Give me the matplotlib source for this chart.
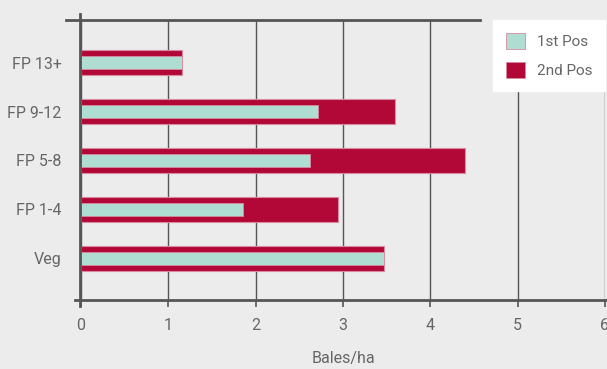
import numpy as np
import matplotlib.pyplot as plt
from matplotlib.patches import Patch

plt.rcParams['font.family'] = ['Roboto', 'DejaVu Sans']

categories = ['Veg', 'FP 1-4', 'FP 5-8', 'FP 9-12', 'FP 13+']
first_pos = [3.47, 1.85, 2.62, 2.71, 1.16]
second_pos = [3.47, 2.94, 4.40, 3.59, 1.16]
xticks = [0, 1, 2, 3, 4, 5, 6]

bg = '#ececec'
mint = '#b0ddd2'
crimson = '#b20838'
edge = '#d98aa0'
grey = '#555555'
txt = '#666666'

fig = plt.figure(figsize=(6.07, 3.69), dpi=100, facecolor=bg)
ax = fig.add_axes([0.1334, 0.187, 0.8633, 0.7588], facecolor=bg)

y = np.arange(len(categories))
ax.barh(y, second_pos, height=0.51, color=crimson, edgecolor=edge, linewidth=0.8, zorder=3)
ax.barh(y, first_pos, height=0.26, color=mint, edgecolor=edge, linewidth=0.6, zorder=4)

ax.set_xlim(0, 6)
ax.set_ylim(-0.85, 4.87)
ax.set_xticks(xticks)
ax.set_yticks(y)
ax.set_yticklabels(categories)
ax.tick_params(axis='y', length=0, pad=14, labelsize=11.5, labelcolor=txt)
ax.tick_params(axis='x', length=5, width=1.2, color=grey, pad=8, labelsize=11.5, labelcolor=txt)
ax.grid(axis='x', color=grey, linewidth=1.0, zorder=1)
for s in ax.spines.values():
    s.set_visible(False)

# custom axis lines, slightly overhanging like the original
ax.plot([-0.012, 1.01], [0, 0], transform=ax.transAxes, color=grey, lw=2, clip_on=False, zorder=5)
ax.plot([-0.029, 0.761], [1, 1], transform=ax.transAxes, color=grey, lw=2, clip_on=False, zorder=5)
ax.plot([-0.002, -0.002], [-0.02, 1.022], transform=ax.transAxes, color=grey, lw=2, clip_on=False, zorder=5)

ax.set_xlabel('Bales/ha', fontsize=11.5, color=txt, labelpad=13)

handles = [Patch(facecolor=mint, edgecolor=edge, linewidth=0.6, label='1st Pos'),
           Patch(facecolor=crimson, edgecolor=edge, linewidth=0.6, label='2nd Pos')]
leg = ax.legend(handles=handles, loc='upper right', bbox_to_anchor=(1.0, 1.0),
                frameon=True, fancybox=False, framealpha=1, fontsize=11,
                handlelength=1.25, handleheight=1.25, handletextpad=0.75,
                labelspacing=0.85, borderpad=0.85, borderaxespad=0.0)
leg.get_frame().set_facecolor('white')
leg.get_frame().set_edgecolor('white')
for t in leg.get_texts():
    t.set_color(txt)
leg.set_zorder(10)

fig.savefig('out.png', dpi=100, facecolor=bg)
